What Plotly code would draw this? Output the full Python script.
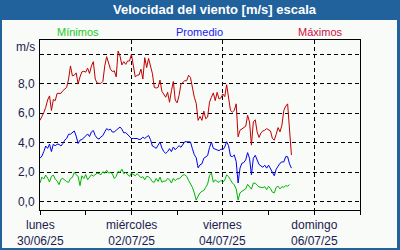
import pandas as pd
import plotly.graph_objects as go

# ---- data (hourly, starting 30/06/25 00:00) ----
start_time = "2025-06-30 00:00"

max_vals = [
    5.52, 5.74, 6.05, 6.4, 6.9, 7.18, 6.19, 6.93, 6.86, 7.35,
    7.35, 7.35, 7.53, 7.65, 7.76, 8.32, 9.21, 8.54, 8.58, 8.74,
    7.98, 8.47, 8.81, 8.85, 8.79, 9.06, 8.7, 9.21, 9.5, 8.32,
    8.05, 8.03, 8.03, 8.16, 9.21, 9.84, 9.44, 8.99, 8.83, 8.88,
    8.47, 10.22, 9.88, 9.28, 9.5, 9.32, 9.55, 9.55, 10.0, 9.21,
    8.47, 8.58, 8.6, 8.99, 8.32, 9.77, 9.1, 9.72, 9.21, 8.7,
    7.76, 7.71, 7.76, 8.25, 7.49, 7.27, 7.09, 7.42, 6.75, 7.53,
    8.16, 6.9, 6.71, 7.2, 7.98, 8.09, 8.21, 8.21, 8.58, 8.43,
    7.65, 7.09, 6.68, 5.52, 5.79, 5.52, 6.15, 5.63, 5.74, 6.75,
    7.09, 7.38, 6.86, 7.42, 6.97, 7.04, 7.31, 7.13, 7.94, 7.09,
    6.19, 6.08, 6.19, 6.64, 4.4, 4.85, 4.96, 5.03, 5.12, 5.86,
    5.41, 3.84, 5.41, 5.56, 4.74, 4.36, 4.67, 4.8, 4.85, 4.96,
    4.85, 4.8, 4.29, 4.18, 4.58, 5.03, 4.74, 5.19, 6.19, 6.48,
    6.64, 5.0, 3.17,
]

avg_vals = [
    2.95, 3.1, 3.4, 3.78, 3.62, 3.91, 3.4, 3.91, 3.78, 3.91,
    3.89, 3.78, 3.95, 4.18, 4.29, 4.58, 4.58, 4.67, 4.8, 4.45,
    3.95, 4.18, 4.22, 4.33, 4.47, 4.6, 4.42, 4.74, 4.83, 4.49,
    4.31, 4.25, 4.4, 4.49, 4.74, 4.96, 4.87, 4.92, 4.72, 4.74,
    4.85, 4.96, 5.07, 4.92, 4.67, 4.69, 4.56, 4.42, 4.29, 4.29,
    4.29, 4.29, 4.22, 4.25, 4.38, 4.29, 4.4, 4.49, 4.22, 3.78,
    3.71, 3.62, 3.84, 4.05, 3.64, 3.4, 3.28, 3.4, 3.6, 3.4,
    3.71, 3.53, 3.67, 3.8, 3.69, 3.91, 4.07, 4.07, 4.07, 4.05,
    3.6, 3.19, 2.99, 2.3, 2.5, 2.57, 2.95, 3.02, 3.13, 3.67,
    4.05, 3.62, 3.55, 3.51, 3.46, 3.57, 3.53, 3.71, 4.07, 3.8,
    3.1, 3.06, 3.17, 2.72, 1.27, 2.28, 2.61, 2.66, 2.84, 3.33,
    2.95, 1.83, 2.95, 3.15, 2.88, 2.52, 2.43, 2.34, 2.48, 2.28,
    2.48, 2.21, 1.94, 1.76, 2.21, 2.39, 2.61, 2.7, 2.7, 3.06,
    3.06, 2.57, 2.28,
]

min_vals = [
    1.27, 1.67, 1.54, 1.81, 1.61, 1.34, 1.72, 1.81, 1.54, 1.4,
    1.16, 1.52, 1.58, 1.45, 1.36, 1.32, 1.58, 1.65, 1.99, 1.83,
    1.72, 1.09, 1.76, 1.58, 1.85, 1.49, 1.67, 1.83, 1.74, 1.85,
    1.94, 1.9, 1.83, 2.03, 1.94, 2.14, 1.94, 1.99, 1.9, 1.58,
    1.72, 2.05, 1.99, 2.21, 1.9, 1.99, 1.88, 1.72, 1.94, 1.83,
    1.76, 1.9, 1.76, 1.63, 1.7, 1.49, 1.72, 1.7, 1.56, 1.36,
    1.32, 1.58, 1.38, 1.67, 1.32, 1.4, 1.4, 1.58, 1.49, 1.27,
    1.58, 1.43, 1.56, 1.56, 1.67, 1.81, 1.83, 1.72, 1.45, 1.22,
    0.98, 0.6, 0.11, 0.38, 0.6, 0.71, 0.76, 0.98, 1.2, 1.78,
    1.94, 1.32, 1.49, 1.36, 1.32, 1.45, 1.32, 1.47, 1.83, 1.7,
    1.43, 1.27, 1.14, 0.87, 0.11, 0.6, 0.71, 0.78, 0.87, 1.18,
    0.98, 0.85, 1.27, 1.25, 1.14, 1.0, 0.98, 0.96, 1.02, 0.82,
    1.05, 0.89, 0.65, 0.6, 0.98, 1.05, 0.87, 1.02, 0.98, 1.09,
    1.05, 1.16,
]

x_tick_vals = ["2025-06-30", "2025-07-02", "2025-07-04", "2025-07-06"]
x_tick_text = ["lunes<br>30/06/25", "miércoles<br>02/07/25",
               "viernes<br>04/07/25", "domingo<br>06/07/25"]
x_minor_vals = ["2025-07-01", "2025-07-03", "2025-07-05", "2025-07-07"]
y_tick_vals = [0, 2, 4, 6, 8, 10]
y_tick_text = ["0,0", "2,0", "4,0", "6,0", "8,0", ""]

title_text = "Velocidad del viento [m/s] escala"
legend_names = ["Mínimos", "Promedio", "Máximos"]
unit_label = "m/s"

# ---- styling ----
BAR_BLUE = "#22629c"
INNER_BG = "#f8fbf8"
TXT = "#1c1c50"
FONT = "Liberation Sans, Arial, sans-serif"
C_MIN, C_AVG, C_MAX = "#00b400", "#0000ee", "#c00000"
L_MIN, L_AVG, L_MAX = "#22cc22", "#2222ee", "#cc1144"

t_max = pd.date_range(start_time, periods=len(max_vals), freq="h")
t_avg = pd.date_range(start_time, periods=len(avg_vals), freq="h")
t_min = pd.date_range(start_time, periods=len(min_vals), freq="h")

fig = go.Figure()
fig.add_trace(go.Scatter(x=t_min, y=min_vals, mode="lines",
                         line=dict(color=C_MIN, width=1), name=legend_names[0]))
fig.add_trace(go.Scatter(x=t_avg, y=avg_vals, mode="lines",
                         line=dict(color=C_AVG, width=1), name=legend_names[1]))
fig.add_trace(go.Scatter(x=t_max, y=max_vals, mode="lines",
                         line=dict(color=C_MAX, width=1), name=legend_names[2]))

W, H = 400, 250
ml, mr, mt, mb = 40, 40, 40, 40
pw, ph = W - ml - mr, H - mt - mb


def px_x(p):
    return (p - ml) / pw


def px_y(p):
    return (H - mb - p) / ph


annotations = [
    dict(text="<b>" + title_text + "</b>", xref="paper", yref="paper",
         x=px_x(215), y=px_y(10), showarrow=False,
         font=dict(family=FONT, size=13, color="white"),
         xanchor="center", yanchor="middle"),
    dict(text=legend_names[0], xref="paper", yref="paper",
         x=px_x(78), y=px_y(32), showarrow=False,
         font=dict(family=FONT, size=11, color=L_MIN),
         xanchor="center", yanchor="middle"),
    dict(text=legend_names[1], xref="paper", yref="paper",
         x=px_x(199), y=px_y(32), showarrow=False,
         font=dict(family=FONT, size=11, color=L_AVG),
         xanchor="center", yanchor="middle"),
    dict(text=legend_names[2], xref="paper", yref="paper",
         x=px_x(320), y=px_y(32), showarrow=False,
         font=dict(family=FONT, size=11, color=L_MAX),
         xanchor="center", yanchor="middle"),
    dict(text=unit_label, xref="paper", yref="paper",
         x=px_x(37), y=px_y(47), showarrow=False,
         font=dict(family=FONT, size=12, color=TXT),
         xanchor="right", yanchor="middle"),
]
# x-axis tick labels (two lines each), placed at the tick dates
for tv, tt in zip(x_tick_vals, x_tick_text):
    annotations.append(dict(
        text=tt, xref="x", yref="paper", x=tv, y=px_y(233),
        showarrow=False, xanchor="center", yanchor="middle",
        font=dict(family=FONT, size=12, color=TXT)))

fig.update_layout(
    width=W, height=H,
    margin=dict(l=ml, r=mr, t=mt, b=mb, pad=0, autoexpand=False),
    paper_bgcolor=BAR_BLUE,
    plot_bgcolor=INNER_BG,
    showlegend=False,
    font=dict(family=FONT, size=12, color=TXT),
    shapes=[
        dict(type="rect", xref="paper", yref="paper", layer="below",
             x0=px_x(2), x1=px_x(397), y0=px_y(248), y1=px_y(20),
             fillcolor=INNER_BG, line=dict(width=0)),
    ],
    annotations=annotations,
)

fig.update_xaxes(
    type="date", automargin=False,
    range=["2025-06-30", "2025-07-07"],
    tickmode="array", tickvals=x_tick_vals, showticklabels=False,
    ticks="outside", ticklen=4, tickcolor="black", tickwidth=1,
    showline=True, linecolor="black", linewidth=1, mirror=True,
    showgrid=True, gridcolor="black", gridwidth=1, griddash="4px,3px",
    zeroline=False,
    minor=dict(tickmode="array", tickvals=x_minor_vals, ticks="outside",
               ticklen=4, tickcolor="black", showgrid=False),
)
fig.update_yaxes(
    automargin=False,
    range=[-0.56, 10.97],
    tickmode="array", tickvals=y_tick_vals, ticktext=y_tick_text,
    ticks="", ticklabelstandoff=2,
    showline=True, linecolor="black", linewidth=1, mirror=True,
    showgrid=True, gridcolor="black", gridwidth=1, griddash="4px,3px",
    zeroline=False,
    tickfont=dict(family=FONT, size=12, color=TXT),
)

fig.write_html("out.html")
